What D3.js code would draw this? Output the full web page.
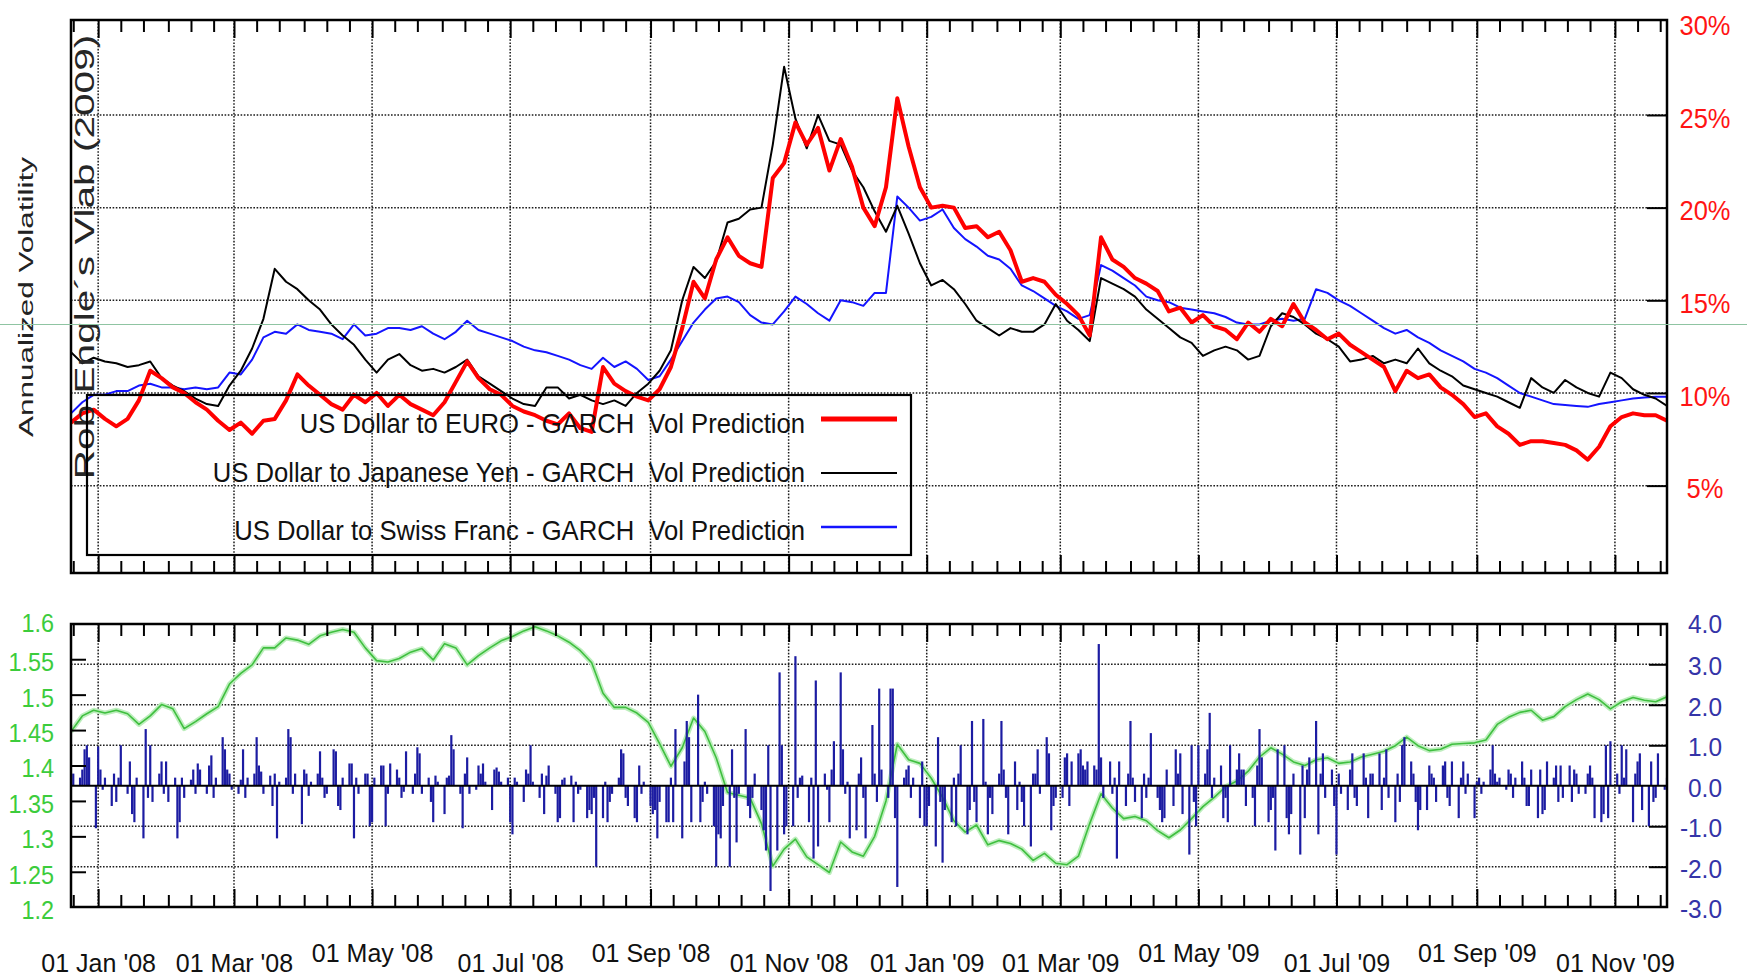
<!DOCTYPE html>
<html>
<head>
<meta charset="utf-8">
<title>GARCH volatility predictions – USD vs EUR, JPY, CHF</title>
<script src="https://cdn.jsdelivr.net/npm/d3@7"></script>
<style>
  html, body { margin: 0; padding: 0; background: #fff; }
  svg text { font-family: "Liberation Sans", Arial, Helvetica, sans-serif; white-space: pre; }
</style>
</head>
<body>
<svg id="chart" width="1747" height="978"></svg>
<script>
// ---------------------------------------------------------------------------
// Data
// ---------------------------------------------------------------------------
const startDate = "2007-12-20";
const endDate = "2009-11-24";
const volStepDays = 5;          // vol predictions / exchange rate sampled every 5 days from startDate

// Annualized GARCH volatility predictions (%)
const eurVol = [
  8.4, 8.9, 9.1, 8.6, 8.2, 8.6, 9.6, 11.2, 10.8, 10.3,
  10.0, 9.5, 9.1, 8.5, 8.0, 8.4, 7.8, 8.5, 8.6, 9.6,
  11.0, 10.4, 9.9, 9.4, 9.1, 9.9, 9.5, 10.0, 9.3, 9.9,
  9.4, 9.1, 8.8, 9.5, 10.6, 11.7, 10.8, 10.2, 9.9, 9.3,
  9.0, 8.8, 8.5, 8.3, 8.9, 8.1, 7.9, 11.4, 10.5, 10.1,
  9.8, 9.6, 10.2, 11.4, 13.5, 16.0, 15.1, 17.2, 18.4, 17.4,
  17.0, 16.8, 21.6, 22.4, 24.6, 23.4, 24.3, 22.0, 23.7, 22.2,
  20.0, 19.0, 21.1, 25.9, 23.3, 21.1, 20.0, 20.1, 20.0, 18.9,
  19.0, 18.4, 18.7, 17.7, 16.0, 16.2, 16.0, 15.3, 14.8, 14.2,
  13.1, 18.4, 17.2, 16.8, 16.2, 15.9, 15.5, 14.4, 14.6, 13.8,
  14.2, 13.6, 13.4, 12.9, 13.8, 13.3, 14.0, 13.6, 14.8, 13.8,
  13.4, 12.9, 13.2, 12.6, 12.2, 11.8, 11.4, 10.1, 11.2, 10.8,
  11.0, 10.3, 9.9, 9.4, 8.7, 8.9, 8.2, 7.8, 7.2, 7.4,
  7.4, 7.3, 7.2, 6.9, 6.4, 7.1, 8.2, 8.7, 8.9, 8.8,
  8.8, 8.5
];
const jpyVol = [
  12.2, 11.6, 11.9, 11.7, 11.6, 11.4, 11.5, 11.7, 10.8, 10.4,
  10.1, 9.7, 9.4, 9.3, 10.4, 11.2, 12.4, 14.0, 16.7, 16.0,
  15.6, 15.0, 14.5, 13.7, 13.1, 12.6, 11.8, 11.1, 11.8, 12.1,
  11.5, 11.2, 11.3, 11.1, 11.4, 11.8, 10.9, 10.5, 10.1, 9.7,
  9.4, 9.3, 10.3, 10.3, 9.7, 9.9, 9.6, 9.4, 9.6, 9.3,
  10.0, 10.5, 11.2, 12.3, 15.0, 16.8, 16.2, 17.1, 19.2, 19.4,
  19.9, 20.0, 23.4, 27.6, 24.8, 23.2, 25.0, 23.6, 23.4, 22.0,
  21.1, 19.8, 18.7, 20.1, 18.6, 17.0, 15.8, 16.1, 15.6, 14.8,
  13.9, 13.5, 13.1, 13.5, 13.3, 13.3, 13.7, 14.8, 13.9, 13.4,
  12.8, 16.2, 15.9, 15.6, 15.2, 14.5, 14.0, 13.5, 13.0, 12.7,
  12.0, 12.3, 12.5, 12.3, 11.8, 12.0, 13.6, 14.3, 14.1, 13.7,
  13.2, 12.9, 12.5, 11.7, 11.8, 12.0, 11.6, 11.8, 11.6, 12.4,
  11.6, 11.2, 10.9, 10.4, 10.2, 10.0, 9.8, 9.5, 9.2, 10.8,
  10.3, 10.0, 10.7, 10.3, 10.0, 9.8, 11.1, 10.8, 10.2, 9.9,
  9.7, 9.3
];
const chfVol = [
  8.9, 9.5, 9.9, 9.9, 10.1, 10.1, 10.4, 10.5, 10.3, 10.3,
  10.2, 10.3, 10.2, 10.3, 11.1, 11.0, 11.8, 13.0, 13.3, 13.2,
  13.7, 13.4, 13.3, 13.2, 12.9, 13.7, 13.1, 13.2, 13.5, 13.5,
  13.4, 13.6, 13.2, 12.9, 13.3, 13.9, 13.4, 13.2, 13.0, 12.8,
  12.5, 12.3, 12.2, 12.0, 11.8, 11.5, 11.3, 11.9, 11.4, 11.7,
  11.3, 10.7, 10.9, 11.8, 12.8, 13.8, 14.5, 15.1, 15.2, 14.9,
  14.2, 13.8, 13.7, 14.4, 15.2, 14.8, 14.3, 13.9, 15.0, 14.9,
  14.7, 15.4, 15.4, 20.6, 20.0, 19.3, 19.5, 19.9, 18.9, 18.3,
  17.9, 17.4, 17.2, 16.7, 15.8, 15.5, 15.1, 14.7, 14.4, 14.0,
  14.2, 16.9, 16.6, 16.2, 15.8, 15.2, 15.0, 14.9, 14.6, 14.5,
  14.4, 14.3, 14.1, 13.8, 13.7, 13.7, 13.9, 14.0, 13.9, 14.0,
  15.6, 15.4, 15.0, 14.7, 14.3, 13.9, 13.5, 13.2, 13.4, 13.0,
  12.7, 12.3, 12.0, 11.7, 11.3, 11.1, 10.8, 10.4, 10.0, 9.8,
  9.6, 9.4, 9.35, 9.3, 9.25, 9.4, 9.5, 9.6, 9.7, 9.75,
  9.8, 9.8
];

// EUR/USD exchange rate (left axis of the lower panel)
const eurUsd = [
  1.448, 1.470, 1.478, 1.474, 1.478, 1.473, 1.458, 1.470, 1.486, 1.480,
  1.452, 1.462, 1.473, 1.483, 1.515, 1.530, 1.542, 1.566, 1.566, 1.580,
  1.577, 1.571, 1.583, 1.588, 1.592, 1.588, 1.566, 1.548, 1.546, 1.551,
  1.560, 1.565, 1.549, 1.572, 1.566, 1.542, 1.555, 1.566, 1.576, 1.582,
  1.590, 1.596, 1.590, 1.583, 1.574, 1.562, 1.545, 1.502, 1.482, 1.482,
  1.474, 1.461, 1.431, 1.399, 1.425, 1.467, 1.448, 1.411, 1.362, 1.358,
  1.354, 1.318, 1.258, 1.282, 1.296, 1.271, 1.260, 1.249, 1.292, 1.278,
  1.272, 1.300, 1.350, 1.430, 1.408, 1.403, 1.382, 1.355, 1.322, 1.306,
  1.316, 1.288, 1.294, 1.290, 1.282, 1.266, 1.276, 1.262, 1.260, 1.272,
  1.318, 1.360, 1.340, 1.325, 1.328, 1.322, 1.308, 1.298, 1.309, 1.325,
  1.342, 1.355, 1.370, 1.378, 1.392, 1.412, 1.425, 1.416, 1.405, 1.400,
  1.408, 1.411, 1.403, 1.405, 1.412, 1.416, 1.420, 1.428, 1.440, 1.428,
  1.421, 1.423, 1.430, 1.431, 1.432, 1.436, 1.458, 1.468, 1.475, 1.478,
  1.464, 1.469, 1.483, 1.493, 1.501, 1.493, 1.480, 1.490, 1.496, 1.492,
  1.490, 1.497
];

// Standardized daily EUR/USD returns, one per weekday from startDate (right axis of the lower panel)
const eurReturns = [
  // Dec 2007
  0.2, 0.3, 0.2, 0.4, 0.9, 1.0, 0.7, -1.05,
  // Jan 2008
  0.97, 0.4, -0.1, 0.2, -0.5, 0.3, -0.4, 0.2, 1.0, -0.2, 0.6, -0.7, -0.9, 0.2, -1.3, 1.4, -0.3, 1.0, -0.4, 0.3, 0.6, -0.2, 0.6,
  // Feb 2008
  -0.4, 0.2, -1.3, -0.9, 0.2, -0.3, 0.15, 0.4, -0.2, 0.55, 0.4, -0.2, 0.5, 0.75, -0.3, 0.2, 1.2, 0.9, 0.4, 0.3, -0.1,
  // Mar 2008
  -0.2, 0.15, 0.9, -0.3, 0.2, 0.3, 1.2, 0.5, 0.35, -0.2, 0.25, -0.5, 0.3, -1.3, 0.1, 0.2, 1.4, 1.2, -0.2, 0.3, -0.95,
  // Apr 2008
  0.4, 0.3, -0.25, 0.1, 0.3, 0.85, 0.2, -0.3, -0.2, 0.9, 0.85, -0.5, -0.6, 0.2, 0.55, 0.55, -1.3, 0.2, -0.2, 0.3, 0.3, -1.0,
  // May 2008
  -0.9, 0.2, 0.5, 0.5, -1.0, -0.2, 0.55, 0.4, 0.2, -0.3, -0.15, 0.85, -0.2, 0.3, 0.95, 0.8, -0.2, 0.2, -0.4, -0.9, 0.25, 0.1,
  // Jun 2008
  -0.7, 0.2, 0.25, 1.25, 0.9, -0.2, -1.05, 0.3, 0.7, -0.2, -0.1, 0.5, 0.3, 0.55, 0.1, -0.6, 0.4, 0.45, 0.35, 0.1, 0.2,
  // Jul 2008
  -0.9, -1.2, 0.2, 0.1, -0.4, 0.4, 0.3, 1.0, 0.1, -0.3, 0.3, -0.7, 0.25, 0.5, -0.2, -0.9, -0.8, 0.15, 0.2, 0.25, -0.9, 0.1, -0.2,
  // Aug 2008
  -0.1, -0.8, -0.6, -0.7, -0.3, -2.0, -0.8, 0.1, -0.9, -0.4, -0.2, 0.2, 0.9, 0.8, -0.3, -0.5, -0.8, -0.9, 0.5, -0.2, 0.1,
  // Sep 2008
  -0.5, -0.7, -0.6, -1.3, -0.4, -0.9, -0.9, 0.2, -0.9, 1.4, -1.3, 0.6, 1.6, 1.2, -0.9, 2.25, -0.9, -0.4, 0.1, -0.2, -1.0, -2.0,
  // Oct 2008
  -1.2, -1.3, -0.5, -2.0, 0.9, -0.3, -1.4, -0.2, 1.4, -0.5, -0.8, -0.3, 0.3, -0.6, -1.1, -1.6, 1.0, -2.6, -1.6, 2.8, 1.0, -1.2, -1.0,
  // Nov 2008
  -1.0, 3.2, -0.3, 0.2, 0.25, -0.9, 0.2, -1.8, 2.6, -1.5, 0.3, -0.1, -0.9, 0.4, 1.1, 2.8, 0.9, -0.2, 0.1, -1.3,
  // Dec 2008
  -1.1, 0.3, 0.7, -0.3, -1.3, 1.5, 0.3, -0.4, 2.4, 0.4, -0.3, 2.4, 2.4, -0.8, -2.5, 0.2, 0.4, 0.5, -0.3, 0.2, -0.8, 0.6, -1.0,
  // Jan 2009
  -1.0, -0.5, -1.5, 1.2, -0.4, -1.9, -0.6, -0.9, 0.2, -1.0, 0.3, 1.0, -1.2, -0.6, 1.6, -0.4, -0.9, 1.65, 0.1, -1.2, -0.3, -0.7,
  // Feb 2009
  0.3, 1.6, 0.4, -0.3, -1.2, 0.6, -0.6, 0.1, -0.4, -1.0, -1.5, 0.3, 0.3, 0.9, -0.2, 1.2, 0.8, -1.1, -0.5, -0.3,
  // Mar 2009
  -0.3, 0.7, 0.8, -0.5, 0.6, 0.8, 0.9, 0.5, 0.4, 0.6, 0.5, 0.4, 3.5, 0.7, -0.3, 0.6, -0.2, 0.2, -1.8, 0.6, -0.5, 0.3,
  // Apr 2009
  1.6, 0.2, -0.4, -0.8, 0.3, -0.3, 0.2, 1.3, -0.3, -0.6, -0.9, -0.8, 0.4, -0.5, 0.9, 0.3, 0.8, -0.7, -1.7, 1.0, -0.4, -1.0,
  // May 2009
  1.0, 0.3, 0.9, 1.8, -0.3, 0.2, 0.5, -0.8, -0.3, -0.9, 1.0, 0.4, 0.8, 0.4, 0.4, -0.5, -0.3, -1.0, 0.5, 1.4, 0.7,
  // Jun 2009
  -0.9, -0.6, -0.3, -1.6, 0.9, 1.0, -0.8, -1.2, -0.7, 0.3, -1.7, 0.5, -0.8, 0.4, 0.7, 1.6, -1.2, 0.3, 0.8, -0.3, 0.4, -0.5,
  // Jul 2009
  -1.7, 0.3, -0.2, -0.6, 0.4, 0.8, -0.3, -0.5, 0.8, 0.2, -0.8, 0.3, 0.3, 0.8, -0.6, 0.2, 0.9, -0.3, -0.9, 0.3, -0.4, 1.0, 1.2,
  // Aug 2009
  0.6, 0.3, -0.4, -1.1, -0.6, -0.6, 0.5, 0.3, 0.2, -0.4, 0.5, 0.6, -0.3, -0.5, 0.6, -0.8, 0.2, 0.6, -0.2, 0.3, -0.8,
  // Sep 2009
  0.1, 0.2, -0.2, 0.1, 0.4, 1.0, 0.3, 0.1, 0.2, -0.1, 0.4, 0.3, -0.3, 0.2, 0.6, 0.2, -0.5, -0.5, 0.4, -0.8, 0.4, -0.7,
  // Oct 2009
  -0.6, 0.6, 0.2, 0.5, -0.4, 0.5, -0.3, 0.5, -0.4, 0.4, 0.3, -0.2, -0.2, 0.3, 0.5, 0.2, -0.8, -0.9, -0.7, 1.0, -0.8, 1.1,
  // Nov 2009
  0.3, -0.2, 1.0, 0.2, 0.9, -0.9, 0.3, 0.6, 0.8, -0.6, -1.0, 0.6, -0.4, -0.3, 0.8, -0.1, 0.2
];

// Axis ticks and labels
const monthTicks = ["2008-01-01", "2008-03-01", "2008-05-01", "2008-07-01", "2008-09-01", "2008-11-01",
                    "2009-01-01", "2009-03-01", "2009-05-01", "2009-07-01", "2009-09-01", "2009-11-01"];
const volTicks = [5, 10, 15, 20, 25, 30];
const rateTicks = [1.2, 1.25, 1.3, 1.35, 1.4, 1.45, 1.5, 1.55, 1.6];
const returnTicks = [-3, -2, -1, 0, 1, 2, 3, 4];
const seriesLabels = [
  "US Dollar to EURO - GARCH  Vol Prediction",
  "US Dollar to Japanese Yen - GARCH  Vol Prediction",
  "US Dollar to Swiss Franc - GARCH  Vol Prediction"
];
const yTitle = "Annualized Volatility";
const credit = "Rob Engle\u00b4s Vlab (2009)";

// ---------------------------------------------------------------------------
// Layout & scales
// ---------------------------------------------------------------------------
const svg = d3.select("#chart");
const L = 71, R = 1667;
const top1 = 20, bot1 = 573;      // upper panel frame
const top2 = 624, bot2 = 907;     // lower panel frame

const parse = d3.utcParse("%Y-%m-%d");
const start = parse(startDate), end = parse(endDate);
const months = monthTicks.map(parse);

const x = d3.scaleUtc().domain([start, end]).range([L, R]);
const yVol = d3.scaleLinear().domain([0, 30]).range([578.3, 22.3]);
const yRate = d3.scaleLinear().domain([1.2, 1.6]).range([907.2, 623.8]);
const yRet = d3.scaleLinear().domain([-3, 4]).range([907.2, 623.8]);

const volDates = eurVol.map((_, i) => d3.utcDay.offset(start, i * volStepDays));
const tradingDays = d3.utcDay.range(start, d3.utcDay.offset(end, 1)).filter(d => d.getUTCDay() % 6 !== 0);
const minorDays = d3.utcDay.range(start, d3.utcDay.offset(end, 1))
  .filter(d => [1, 11, 21].includes(d.getUTCDate()) && !(d.getUTCDate() === 1 && d.getUTCMonth() % 2 === 0));

svg.append("rect").attr("width", 1747).attr("height", 978).attr("fill", "#fff");

const defs = svg.append("defs");
defs.append("clipPath").attr("id", "clipTop").append("rect")
  .attr("x", L).attr("y", top1).attr("width", R - L).attr("height", bot1 - top1);
defs.append("clipPath").attr("id", "clipBot").append("rect")
  .attr("x", L).attr("y", top2).attr("width", R - L).attr("height", bot2 - top2);

// ---------------------------------------------------------------------------
// Grid
// ---------------------------------------------------------------------------
const grid = svg.append("g")
  .attr("stroke", "#1c1c1c").attr("stroke-width", 1.5).attr("stroke-dasharray", "1.6,1.6");

grid.selectAll(".hv").data(volTicks.filter(v => v < 30)).join("line")
  .attr("x1", L).attr("x2", R).attr("y1", d => yVol(d)).attr("y2", d => yVol(d));
grid.selectAll(".hr").data(returnTicks.filter(v => v > -3 && v < 4 && v !== 0)).join("line")
  .attr("x1", L).attr("x2", R).attr("y1", d => yRet(d)).attr("y2", d => yRet(d));
[[top1, bot1], [top2, bot2]].forEach(([a, b]) => {
  grid.append("g").selectAll("line").data(months).join("line")
    .attr("x1", d => x(d)).attr("x2", d => x(d)).attr("y1", a).attr("y2", b);
});

// ---------------------------------------------------------------------------
// Upper panel: GARCH volatility predictions
// ---------------------------------------------------------------------------
const volLine = d3.line().x((d, i) => x(volDates[i])).y(d => yVol(d));
const upper = svg.append("g").attr("clip-path", "url(#clipTop)").attr("fill", "none")
  .attr("stroke-linejoin", "round");
upper.append("path").attr("d", volLine(chfVol)).attr("stroke", "#1414ff").attr("stroke-width", 2);
upper.append("path").attr("d", volLine(jpyVol)).attr("stroke", "#000").attr("stroke-width", 2);
upper.append("path").attr("d", volLine(eurVol)).attr("stroke", "#ff0000").attr("stroke-width", 4);

// ---------------------------------------------------------------------------
// Lower panel: EUR/USD rate and daily returns
// ---------------------------------------------------------------------------
const lower = svg.append("g").attr("clip-path", "url(#clipBot)");
const rateLine = d3.line().x((d, i) => x(volDates[i])).y(d => yRate(d));
lower.append("path").attr("d", rateLine(eurUsd)).attr("fill", "none")
  .attr("stroke", "#bdeebd").attr("stroke-width", 5).attr("stroke-linejoin", "round");
lower.append("path").attr("d", rateLine(eurUsd)).attr("fill", "none")
  .attr("stroke", "#3fbf3f").attr("stroke-width", 1.6).attr("stroke-linejoin", "round");

const n = Math.min(tradingDays.length, eurReturns.length);
lower.append("g").selectAll("line").data(eurReturns.slice(0, n)).join("line")
  .attr("x1", (d, i) => x(tradingDays[i])).attr("x2", (d, i) => x(tradingDays[i]))
  .attr("y1", yRet(0)).attr("y2", d => yRet(d))
  .attr("stroke", "#1c1ca2").attr("stroke-width", 2.2);

svg.append("line").attr("x1", L).attr("x2", R).attr("y1", yRet(0)).attr("y2", yRet(0))
  .attr("stroke", "#000").attr("stroke-width", 2.2);

// ---------------------------------------------------------------------------
// Credit and y title
// ---------------------------------------------------------------------------
svg.append("text").text(credit)
  .attr("transform", "translate(94,257) rotate(-90) scale(1.45,1)")
  .attr("text-anchor", "middle").attr("font-size", 28).attr("fill", "#262626");

svg.append("text").text(yTitle)
  .attr("transform", "translate(33,297) rotate(-90) scale(1.5,1)")
  .attr("text-anchor", "middle").attr("font-size", 21).attr("fill", "#222");

// ---------------------------------------------------------------------------
// Legend
// ---------------------------------------------------------------------------
const legend = svg.append("g");
legend.append("rect").attr("x", 87).attr("y", 395).attr("width", 824).attr("height", 160)
  .attr("fill", "none").attr("stroke", "#000").attr("stroke-width", 2.2);
const legendRows = [
  { label: seriesLabels[0], color: "#ff0000", width: 5, base: 433, lineY: 419 },
  { label: seriesLabels[1], color: "#000", width: 2, base: 482, lineY: 473 },
  { label: seriesLabels[2], color: "#1414ff", width: 2.5, base: 540, lineY: 527 }
];
legendRows.forEach(r => {
  legend.append("text").text(r.label)
    .attr("transform", `translate(805,${r.base}) scale(0.915,1)`)
    .attr("text-anchor", "end").attr("font-size", 28).attr("fill", "#111");
  legend.append("line").attr("x1", 821).attr("x2", 897).attr("y1", r.lineY).attr("y2", r.lineY)
    .attr("stroke", r.color).attr("stroke-width", r.width);
});

// ---------------------------------------------------------------------------
// Frames and ticks
// ---------------------------------------------------------------------------
[[top1, bot1], [top2, bot2]].forEach(([a, b]) => {
  svg.append("rect").attr("x", L).attr("y", a).attr("width", R - L).attr("height", b - a)
    .attr("fill", "none").attr("stroke", "#000").attr("stroke-width", 2.5);
});

function styleTicks(g) {
  g.select(".domain").remove();
  g.selectAll("line").attr("stroke", "#000").attr("stroke-width", 2);
}
[[top1, d3.axisBottom], [bot1, d3.axisTop], [top2, d3.axisBottom], [bot2, d3.axisTop]].forEach(([y, axis]) => {
  svg.append("g").attr("transform", `translate(0,${y})`)
    .call(axis(x).tickValues(minorDays).tickSize(12).tickFormat("")).call(styleTicks);
  svg.append("g").attr("transform", `translate(0,${y})`)
    .call(axis(x).tickValues(months).tickSize(18).tickFormat("")).call(styleTicks);
});
svg.append("g").attr("transform", `translate(${R},0)`)
  .call(d3.axisLeft(yVol).tickValues(volTicks.filter(v => v < 30)).tickSize(20).tickFormat("")).call(styleTicks);
svg.append("g").attr("transform", `translate(${R},0)`)
  .call(d3.axisLeft(yRet).tickValues(returnTicks.filter(v => v > -3 && v < 4 && v !== 0)).tickSize(18).tickFormat("")).call(styleTicks);
svg.append("g").attr("transform", `translate(${L},0)`)
  .call(d3.axisRight(yRate).tickValues(rateTicks.slice(1, -1)).tickSize(15).tickFormat("")).call(styleTicks);

// ---------------------------------------------------------------------------
// Tick labels
// ---------------------------------------------------------------------------
function labelAxis(g, opts) {
  g.select(".domain").remove();
  g.selectAll("line").remove();
  g.selectAll("text")
    .attr("x", 0).attr("y", 0).attr("dy", "0.36em")
    .attr("text-anchor", opts.anchor)
    .attr("transform", d => `translate(${opts.dx},${opts.dy(d)}) scale(${opts.sx},1)`)
    .attr("font-size", opts.size).attr("fill", opts.color);
}

svg.append("g").attr("transform", `translate(${R},0)`)
  .call(d3.axisRight(yVol).tickValues(volTicks).tickSize(0).tickFormat(d => d + "%"))
  .call(labelAxis, { anchor: "middle", dx: 38, dy: () => 2, sx: 0.91, size: 28, color: "#ff1414" });

svg.append("g").attr("transform", `translate(${R},0)`)
  .call(d3.axisRight(yRet).tickValues(returnTicks).tickSize(0).tickFormat(d => d.toFixed(1)))
  .call(labelAxis, { anchor: "end", dx: 55, dy: d => (d === 4 ? -1 : 1), sx: 0.94, size: 26, color: "#3434a8" });

svg.append("g").attr("transform", `translate(${L},0)`)
  .call(d3.axisLeft(yRate).tickValues(rateTicks).tickSize(0).tickFormat(d => String(d)))
  .call(labelAxis, { anchor: "end", dx: -17, dy: d => (d === 1.6 ? -2 : 2), sx: 0.9, size: 26, color: "#3ccc3c" });

const dateFmt = d3.utcFormat("%d %b '%y");
const raisedMonths = [4, 8];   // May and Sep labels sit a little higher
svg.append("g").attr("transform", `translate(0,${bot2})`)
  .call(d3.axisBottom(x).tickValues(months).tickSize(0).tickFormat(dateFmt))
  .call(g => {
    g.select(".domain").remove();
    g.selectAll("text")
      .attr("y", d => (raisedMonths.includes(d.getUTCMonth()) ? 55 : 65)).attr("dy", 0)
      .attr("font-size", 25).attr("fill", "#111").attr("text-anchor", "middle");
  });

// thin rule across the page
svg.append("line").attr("x1", 0).attr("x2", 1747).attr("y1", 324.5).attr("y2", 324.5)
  .attr("stroke", "#8fc4a2").attr("stroke-width", 1);
</script>
</body>
</html>
